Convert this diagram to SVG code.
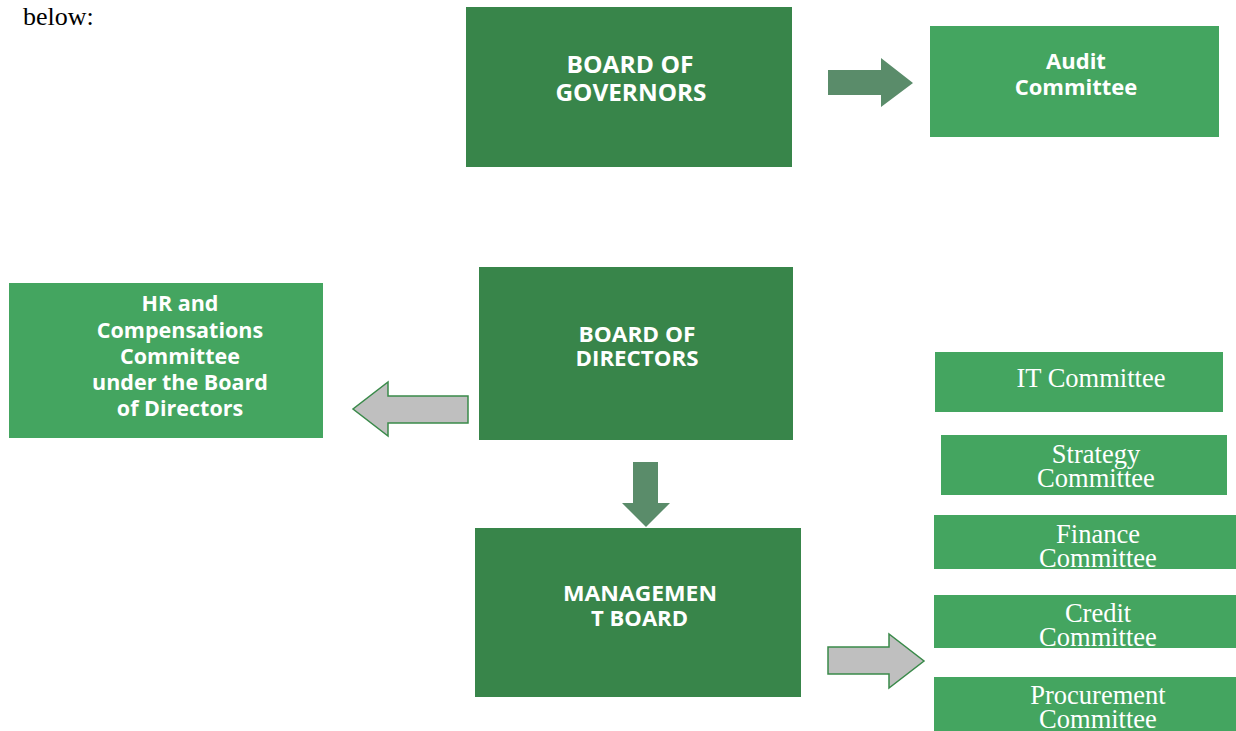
<svg xmlns="http://www.w3.org/2000/svg" width="1236" height="731" viewBox="0 0 1236 731">
<style>
.dark{fill:#38854A}
.light{fill:#44A560}
.bt{font-family:"Open Sans","Liberation Sans",sans-serif;font-weight:bold;font-size:22px;fill:#fff;text-anchor:middle}
.st{font-family:"Liberation Serif","Times New Roman",serif;font-size:26.5px;fill:#fff;text-anchor:middle}
.arrDark{fill:#5A8C6A}
.arrGray{fill:#BFBFBF;stroke:#3A8A4A;stroke-width:1.5;stroke-linejoin:miter}
</style>
<rect width="1236" height="731" fill="#fff"/>
<text x="23" y="25" style="font-family:'Liberation Serif',serif;font-size:26px;fill:#000">below:</text>
<g id="governors"><rect class="dark" x="466" y="7" width="326" height="160"/><text class="bt" x="630" y="73" style="font-size:23px" textLength="127" lengthAdjust="spacingAndGlyphs">BOARD OF</text><text class="bt" x="631" y="101" style="font-size:23px" textLength="151" lengthAdjust="spacingAndGlyphs">GOVERNORS</text></g>
<g id="audit"><rect class="light" x="930" y="26" width="289" height="111"/><text class="bt" x="1076" y="69">Audit</text><text class="bt" x="1076" y="95">Committee</text></g>
<g id="directors"><rect class="dark" x="479" y="267" width="314" height="173"/><text class="bt" x="637" y="342" textLength="117" lengthAdjust="spacingAndGlyphs">BOARD OF</text><text class="bt" x="637" y="366" textLength="123" lengthAdjust="spacingAndGlyphs">DIRECTORS</text></g>
<g id="hr"><rect class="light" x="9" y="283" width="314" height="155"/><g style="font-size:21.5px"><text class="bt" x="180" y="311" style="font-size:21.5px">HR and</text><text class="bt" x="180" y="338" style="font-size:21.5px">Compensations</text><text class="bt" x="180" y="364" style="font-size:21.5px">Committee</text><text class="bt" x="180" y="390" style="font-size:21.5px">under the Board</text><text class="bt" x="180" y="416" style="font-size:21.5px">of Directors</text></g></g>
<g id="management"><rect class="dark" x="475" y="528" width="326" height="169"/><text class="bt" x="640" y="601" textLength="154" lengthAdjust="spacingAndGlyphs">MANAGEMEN</text><text class="bt" x="639.5" y="626" textLength="97" lengthAdjust="spacingAndGlyphs">T BOARD</text></g>
<g id="it"><rect class="light" x="935" y="352" width="288" height="60"/><text class="st" x="1091" y="387">IT Committee</text></g>
<g id="strategy"><rect class="light" x="941" y="435" width="286" height="60"/><text class="st" x="1096" y="463">Strategy</text><text class="st" x="1096" y="487">Committee</text></g>
<g id="finance"><rect class="light" x="934" y="515" width="302" height="54"/><text class="st" x="1098" y="543">Finance</text><text class="st" x="1098" y="567">Committee</text></g>
<g id="credit"><rect class="light" x="934" y="595" width="302" height="53"/><text class="st" x="1098" y="622">Credit</text><text class="st" x="1098" y="646">Committee</text></g>
<g id="procurement"><rect class="light" x="934" y="677" width="302" height="54"/><text class="st" x="1098" y="704">Procurement</text><text class="st" x="1098" y="728">Committee</text></g>
<g id="connectors">
<polygon class="arrDark" points="828,70 881,70 881,58 913,83 881,107 881,95 828,95"/>
<polygon class="arrGray" points="468,396 388,396 388,382 353,409 388,436 388,423 468,423"/>
<polygon class="arrDark" points="633,462 658,462 658,503 670,503 646,527 622,503 633,503"/>
<polygon class="arrGray" points="828,647 889,647 889,634 924,661 889,688 889,674 828,674"/>
</g>
</svg>
